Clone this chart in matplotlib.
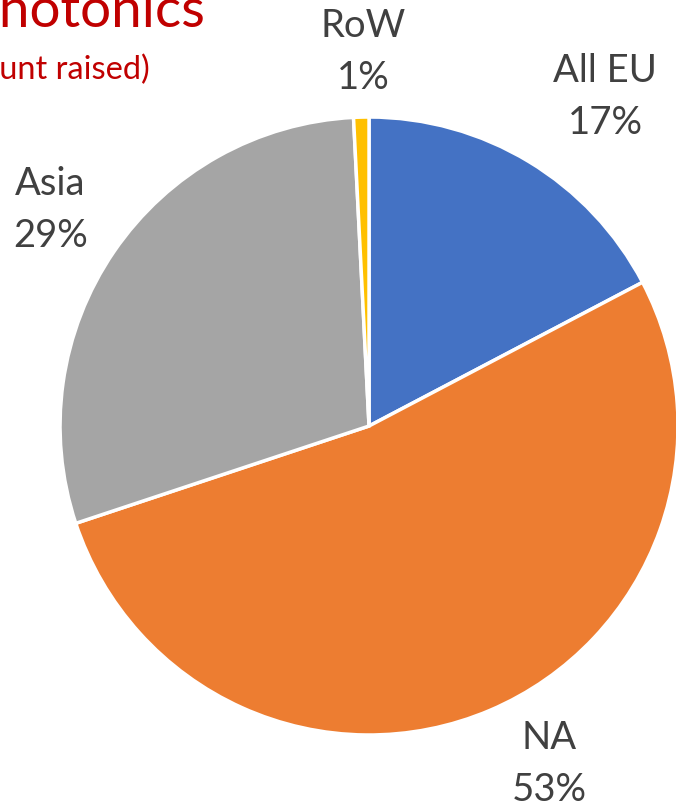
import matplotlib.pyplot as plt

# share of amount raised, by region (%)
regions = ["All EU", "NA", "Asia", "RoW"]
shares = [17.3, 52.6, 29.3, 0.8]
colors = ["#4472C4", "#ED7D31", "#A5A5A5", "#FFC000"]

plt.rcParams["font.family"] = ["Lato", "DejaVu Sans"]

fig = plt.figure(figsize=(6.76, 8.06), dpi=100)

# pie axes: centre ~ (369, 426) px, radius ~ 309 px
ax = fig.add_axes([0.0888, 0.0881, 0.9142, 0.7667])
ax.pie(
    shares,
    colors=colors,
    startangle=90,
    counterclock=False,
    wedgeprops={"edgecolor": "white", "linewidth": 2.5},
)
ax.set_xlim(-1, 1)
ax.set_ylim(-1, 1)
ax.axis("off")

# label spots (axes units, pie radius = 1)
label_pos = [(0.764, 1.065), (0.583, -1.095), (-1.032, 0.699), (-0.019, 1.21)]

total = sum(shares)
for name, val, (x, y) in zip(regions, shares, label_pos):
    pct = round(val / total * 100)
    ax.text(
        x, y, f"{name}\n{pct}%",
        ha="center", va="center",
        fontsize=27.5, color="#404040",
        linespacing=1.55, clip_on=False,
    )

# title, cut off at the left edge in the original
fig.text(205 / 676, 1 - 27 / 806, "Photonics",
         ha="right", va="baseline", fontsize=39.5, color="#C00000")
fig.text(150 / 676, 1 - 79 / 806, "(amount raised)",
         ha="right", va="baseline", fontsize=23.5, color="#C00000")

fig.savefig("out.png", dpi=100)
